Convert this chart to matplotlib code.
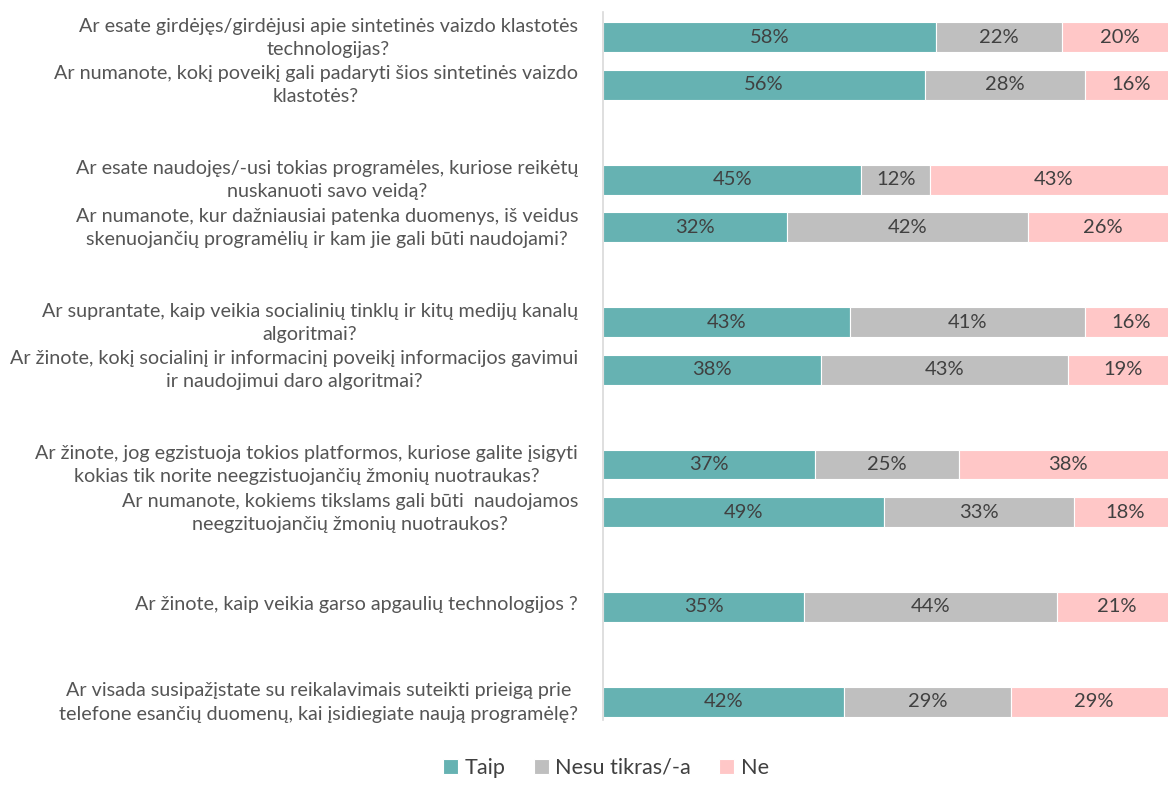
import matplotlib
matplotlib.use("Agg")
from matplotlib import pyplot as plt
from matplotlib import transforms

plt.rcParams['font.family'] = ['Lato', 'DejaVu Sans']

questions = [
    "Ar esate girdėjęs/girdėjusi apie sintetinės vaizdo klastotės\ntechnologijas?",
    "Ar numanote, kokį poveikį gali padaryti šios sintetinės vaizdo\nklastotės?",
    "Ar esate naudojęs/-usi tokias programėles, kuriose reikėtų\nnuskanuoti savo veidą?",
    "Ar numanote, kur dažniausiai patenka duomenys, iš veidus\nskenuojančių programėlių ir kam jie gali būti naudojami?",
    "Ar suprantate, kaip veikia socialinių tinklų ir kitų medijų kanalų\nalgoritmai?",
    "Ar žinote, kokį socialinį ir informacinį poveikį informacijos gavimui\nir naudojimui daro algoritmai?",
    "Ar žinote, jog egzistuoja tokios platformos, kuriose galite įsigyti\nkokias tik norite neegzistuojančių žmonių nuotraukas?",
    "Ar numanote, kokiems tikslams gali būti  naudojamos\nneegzituojančių žmonių nuotraukos?",
    "Ar žinote, kaip veikia garso apgaulių technologijos ?",
    "Ar visada susipažįstate su reikalavimais suteikti prieigą prie\ntelefone esančių duomenų, kai įsidiegiate naują programėlę?",
]
# group of each question (questions in the same group sit together)
groups = [0, 0, 1, 1, 2, 2, 3, 3, 4, 5]

taip = [58, 56, 45, 32, 43, 38, 37, 49, 35, 42]
nesu = [22, 28, 12, 42, 41, 43, 25, 33, 44, 29]
ne = [20, 16, 43, 26, 16, 19, 38, 18, 21, 29]

series_names = ['Taip', 'Nesu tikras/-a', 'Ne']
colors = ['#66B2B2', '#BFBFBF', '#FFC7C7']

# slot positions: one empty slot between groups
pos = []
slot = 0
for i, g in enumerate(groups):
    if i > 0 and g != groups[i - 1]:
        slot += 1
    pos.append(slot)
    slot += 1

fig = plt.figure(figsize=(11.68, 7.85), dpi=100)
ax = fig.add_axes([603 / 1168, 1 - 720 / 785, 1 - 603 / 1168, 708 / 785])

left = [0] * len(taip)
for name, vals, c in zip(series_names, [taip, nesu, ne], colors):
    bars = ax.barh(pos, vals, left=left, height=0.63, color=c, label=name,
                   edgecolor='white', linewidth=0.8)
    for b, v in zip(bars, vals):
        ax.text(b.get_x() + b.get_width() / 2, b.get_y() + b.get_height() / 2,
                f'{v}%', ha='center', va='center', fontsize=14.5, color='#404040')
    left = [l + v for l, v in zip(left, vals)]

ax.set_xlim(0, 98.4)
ax.set_ylim(14.38, -0.53)
ax.set_yticks(pos)
ax.set_yticklabels(questions, fontsize=14.2, color='#555555', multialignment='center',
                   linespacing=1.45)
ax.tick_params(axis='y', length=0, pad=18)
# nudge labels up a little, like in the original
shift = transforms.ScaledTranslation(0, 4 / 100, fig.dpi_scale_trans)
for lab in ax.get_yticklabels():
    lab.set_transform(lab.get_transform() + shift)
ax.set_xticks([])
for s in ['top', 'right', 'bottom']:
    ax.spines[s].set_visible(False)
ax.spines['left'].set_color('#D9D9D9')
ax.spines['left'].set_linewidth(1.2)

fig.legend(loc='center', bbox_to_anchor=(606 / 1168, 0.022), ncol=3, frameon=False,
           fontsize=15.6, handlelength=0.7, handleheight=0.7, columnspacing=1.3,
           handletextpad=0.3, labelcolor='#404040')

fig.savefig('out.png', dpi=100)
